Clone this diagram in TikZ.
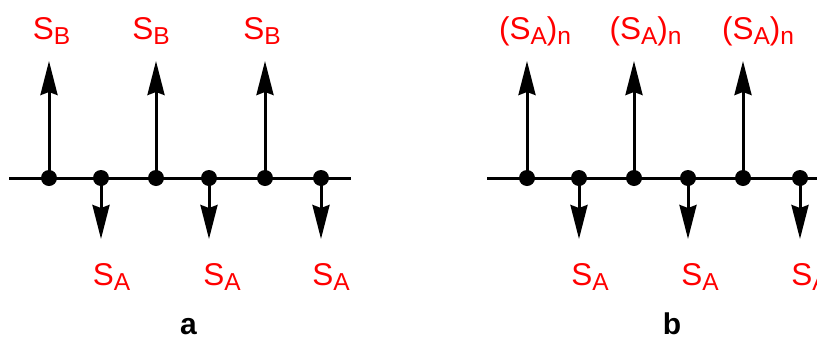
\documentclass[tikz,border=0pt]{standalone}
\usepackage{fontspec}
\setmainfont{Liberation Sans}
\usetikzlibrary{arrows.meta}
\newcommand\lsub[1]{\raisebox{-5.5pt}{\fontsize{24.5}{24.5}\selectfont #1}}
\begin{document}
\begin{tikzpicture}[x=1pt,y=-1pt,
  dot/.style={circle, fill=black, inner sep=0pt, minimum size=16pt},
  arr/.style={line width=3pt, -{Stealth[length=34pt,width=17pt,inset=3pt]}},
  axis/.style={line width=3pt},
  lab/.style={text=red, inner sep=0pt, anchor=base, font=\fontsize{31.5}{31.5}\selectfont},
  panel/.style={inner sep=0pt, anchor=base, font=\bfseries\fontsize{30}{30}\selectfont}]
\useasboundingbox (0,0) rectangle (817,338);
% ---------- panel a ----------
\coordinate (aL) at (9,178);
\coordinate (aR) at (351,178);
\draw[axis] (aL) -- (aR);
\node[dot] (a1) at (49,178) {};
\node[dot] (a2) at (101,178) {};
\node[dot] (a3) at (156,178) {};
\node[dot] (a4) at (209,178) {};
\node[dot] (a5) at (265,178) {};
\node[dot] (a6) at (321,178) {};
\coordinate (a1t) at (49,61);
\coordinate (a3t) at (156,61);
\coordinate (a5t) at (265,61);
\coordinate (a2t) at (101,239);
\coordinate (a4t) at (209,239);
\coordinate (a6t) at (321,239);
\draw[arr] (a1.center) -- (a1t);
\draw[arr] (a3.center) -- (a3t);
\draw[arr] (a5.center) -- (a5t);
\draw[arr] (a2.center) -- (a2t);
\draw[arr] (a4.center) -- (a4t);
\draw[arr] (a6.center) -- (a6t);
\node[lab] (la1) at (51.5,39) {S\lsub{B}};
\node[lab] (la3) at (151,39) {S\lsub{B}};
\node[lab] (la5) at (262,39) {S\lsub{B}};
\node[lab] (la2) at (111.5,285) {S\lsub{A}};
\node[lab] (la4) at (222,285) {S\lsub{A}};
\node[lab] (la6) at (331,285) {S\lsub{A}};
\node[panel] (pa) at (188.5,334) {a};
% ---------- panel b ----------
\coordinate (bL) at (487,178);
\coordinate (bR) at (820,178);
\draw[axis] (bL) -- (bR);
\node[dot] (b1) at (527,178) {};
\node[dot] (b2) at (579,178) {};
\node[dot] (b3) at (634,178) {};
\node[dot] (b4) at (688,178) {};
\node[dot] (b5) at (743,178) {};
\node[dot] (b6) at (800,178) {};
\coordinate (b1t) at (527,61);
\coordinate (b3t) at (634,61);
\coordinate (b5t) at (743,61);
\coordinate (b2t) at (579,239);
\coordinate (b4t) at (688,239);
\coordinate (b6t) at (800,239);
\draw[arr] (b1.center) -- (b1t);
\draw[arr] (b3.center) -- (b3t);
\draw[arr] (b5.center) -- (b5t);
\draw[arr] (b2.center) -- (b2t);
\draw[arr] (b4.center) -- (b4t);
\draw[arr] (b6.center) -- (b6t);
\node[lab] (lb1) at (535,39) {(S\lsub{A})\lsub{n}};
\node[lab] (lb3) at (645.5,39) {(S\lsub{A})\lsub{n}};
\node[lab] (lb5) at (758,39) {(S\lsub{A})\lsub{n}};
\node[lab] (lb2) at (590,285) {S\lsub{A}};
\node[lab] (lb4) at (700,285) {S\lsub{A}};
\node[lab] (lb6) at (810,285) {S\lsub{A}};
\node[panel] (pb) at (672,334) {b};
\end{tikzpicture}
\end{document}
